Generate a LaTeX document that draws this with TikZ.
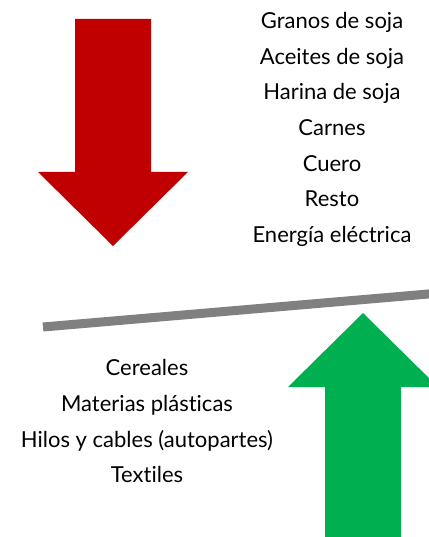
\documentclass[tikz,border=0pt]{standalone}
\usepackage{fontspec}
\setmainfont[Ligatures={NoCommon,NoRare,NoDiscretionary}]{Lato}
\definecolor{redarrow}{HTML}{C00000}
\definecolor{greenarrow}{HTML}{00B050}
\definecolor{beam}{HTML}{808080}
\begin{document}
\begin{tikzpicture}[x=1pt,y=-1pt,
  lbl/.style={font=\fontsize{22}{24}\selectfont, anchor=base, inner sep=0pt}]
\useasboundingbox (0,0) rectangle (428,537);
% red arrow down
\fill[redarrow] (75,19) -- (151,19) -- (151,172) -- (188,172) -- (113,246) -- (38,172) -- (75,172) -- cycle;
% green arrow up
\fill[greenarrow] (325,537) -- (325,387) -- (288,387) -- (363,313) -- (438,387) -- (401,387) -- (401,537) -- cycle;
% beam
\coordinate (bl) at (43,327);
\coordinate (br) at (440,293);
\draw[beam, line width=9pt] (bl) -- (br);
% right list
\node[lbl] (r1) at (332,29) {Granos de soja};
\node[lbl] (r2) at (332,65) {Aceites de soja};
\node[lbl] (r3) at (332,100) {Harina de soja};
\node[lbl] (r4) at (332,136) {Carnes};
\node[lbl] (r5) at (332,172) {Cuero};
\node[lbl] (r6) at (332,207) {Resto};
\node[lbl] (r7) at (332,242) {Energía eléctrica};
% left list
\node[lbl] (l1) at (147,375) {Cereales};
\node[lbl] (l2) at (147,411) {Materias plásticas};
\node[lbl] (l3) at (147,447) {Hilos y cables (autopartes)};
\node[lbl] (l4) at (147,482) {Textiles};
\end{tikzpicture}
\end{document}
